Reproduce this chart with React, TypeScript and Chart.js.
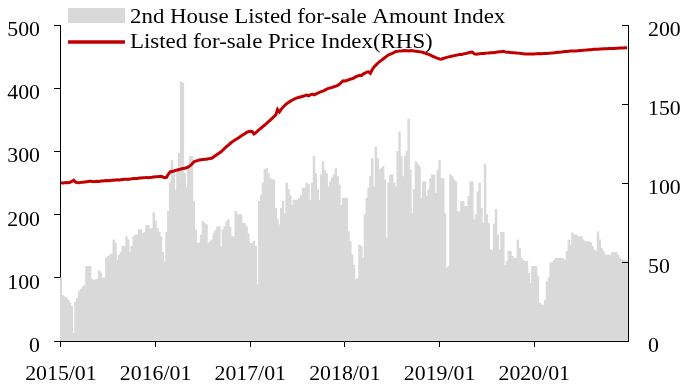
import React, { useEffect, useRef } from "react";
import { Chart, registerables } from "chart.js";

Chart.register(...registerables);

// ---- data ----
const years = [2015, 2016, 2017, 2018, 2019, 2020];
const WEEKS_PER_YEAR = 52;
const tickLabels = ["2015/01", "2016/01", "2017/01", "2018/01", "2019/01", "2020/01"];
const leftTicks = [0, 100, 200, 300, 400, 500];
const rightTicks = [0, 50, 100, 150, 200];

const amountLabel = "2nd House Listed for-sale Amount Index";
const priceLabel = "Listed for-sale Price Index(RHS)";

const amount2015 = [100, 72, 70, 68, 65, 60, 55, 12, 62, 68, 78, 82, 85, 88, 118, 118, 118, 98, 96, 97, 98, 111, 108, 99, 100, 132, 134, 136, 138, 160, 155, 128, 136, 140, 150, 150, 165, 160, 140, 150, 165, 168, 168, 176, 176, 170, 172, 183, 183, 178, 178, 203];
const amount2016 = [190, 178, 172, 165, 140, 125, 172, 205, 250, 286, 270, 239, 273, 297, 410, 408, 265, 244, 276, 292, 292, 221, 176, 155, 155, 168, 189, 186, 184, 155, 157, 160, 171, 175, 181, 181, 149, 176, 181, 189, 192, 180, 165, 165, 205, 200, 200, 200, 186, 186, 181, 170];
const amount2017 = [154, 154, 158, 150, 89, 221, 230, 250, 271, 273, 265, 257, 255, 255, 210, 192, 184, 210, 221, 202, 250, 240, 230, 215, 223, 223, 223, 226, 230, 242, 242, 250, 248, 223, 250, 292, 265, 240, 223, 263, 284, 270, 265, 244, 252, 258, 263, 273, 260, 247, 215, 226];
const amount2018 = [226, 226, 173, 157, 136, 120, 97, 99, 152, 150, 131, 200, 226, 242, 260, 289, 244, 307, 289, 271, 273, 276, 255, 163, 250, 263, 263, 250, 244, 300, 331, 292, 260, 292, 300, 351, 271, 202, 240, 284, 280, 276, 226, 252, 252, 229, 239, 257, 263, 263, 234, 270];
const amount2019 = [286, 257, 257, 202, 115, 118, 263, 260, 255, 252, 205, 205, 221, 221, 213, 213, 229, 252, 252, 192, 200, 236, 250, 210, 186, 280, 200, 186, 144, 144, 185, 208, 168, 144, 172, 172, 120, 126, 142, 142, 134, 131, 131, 160, 147, 131, 128, 126, 126, 107, 91, 118];
const amount2020 = [118, 118, 102, 60, 57, 57, 65, 94, 100, 123, 125, 128, 131, 131, 131, 131, 130, 128, 142, 160, 152, 171, 168, 168, 165, 165, 165, 160, 157, 157, 157, 156, 150, 144, 142, 173, 160, 147, 142, 136, 136, 136, 136, 140, 140, 140, 136, 131, 128, 128, 127, 127];

const price2015 = [100.2, 100.0, 100.1, 100.3, 100.2, 100.5, 101.0, 101.8, 100.6, 100.3, 100.2, 100.4, 100.5, 100.6, 100.8, 100.9, 101.2, 100.9, 100.8, 101.0, 101.1, 101.0, 101.2, 101.3, 101.4, 101.5, 101.4, 101.6, 101.7, 101.8, 101.9, 102.0, 101.9, 102.1, 102.2, 102.3, 102.4, 102.3, 102.6, 102.7, 102.9, 102.8, 102.9, 103.1, 103.2, 103.3, 103.4, 103.5, 103.4, 103.5, 103.6, 103.8];
const price2016 = [104.0, 103.9, 104.1, 104.2, 103.8, 103.4, 103.6, 105.5, 107.0, 107.3, 107.6, 108.0, 108.2, 108.5, 108.9, 109.2, 109.4, 109.6, 110.2, 111.0, 112.0, 113.3, 113.8, 114.2, 114.5, 114.7, 114.8, 115.0, 115.1, 115.3, 115.5, 115.8, 116.6, 117.4, 118.2, 119.0, 119.8, 120.9, 122.0, 123.1, 124.0, 125.0, 126.0, 126.8, 127.5, 128.2, 129.0, 129.8, 130.5, 131.2, 132.0, 132.5];
const price2017 = [132.8, 132.6, 131.0, 131.8, 132.9, 133.9, 134.8, 135.8, 136.7, 137.7, 138.8, 139.8, 140.9, 142.0, 143.0, 146.5, 145.0, 146.6, 148.0, 149.2, 150.2, 151.0, 151.8, 152.4, 153.0, 153.6, 154.0, 154.3, 154.6, 154.9, 155.3, 155.6, 155.2, 155.8, 156.2, 155.8, 156.3, 156.9, 157.3, 157.8, 158.2, 158.8, 159.4, 159.9, 160.2, 160.5, 160.9, 161.3, 161.8, 162.4, 163.6, 164.7];
const price2018 = [164.6, 164.9, 165.3, 165.8, 166.0, 166.5, 167.3, 167.6, 168.2, 168.0, 168.9, 169.5, 170.2, 170.4, 169.4, 171.8, 173.5, 174.6, 175.8, 176.8, 177.6, 178.5, 179.4, 180.3, 181.1, 181.6, 182.0, 182.6, 183.2, 183.3, 183.5, 183.6, 183.7, 183.8, 183.7, 183.6, 183.8, 183.7, 183.5, 183.4, 183.3, 183.1, 183.0, 182.6, 182.2, 181.8, 181.4, 180.9, 180.3, 179.8, 179.3, 178.9];
const price2019 = [178.5, 178.4, 178.8, 179.2, 179.5, 179.8, 180.1, 180.4, 180.6, 180.9, 181.1, 181.3, 181.4, 181.6, 181.9, 182.1, 182.4, 182.7, 182.9, 181.8, 181.5, 181.7, 181.8, 181.9, 182.0, 182.1, 182.2, 182.3, 182.4, 182.5, 182.6, 182.7, 182.9, 183.0, 183.1, 183.4, 183.0, 182.8, 182.7, 182.6, 182.5, 182.4, 182.3, 182.2, 182.1, 181.9, 181.8, 181.7, 181.6, 181.6, 181.6, 181.7];
const price2020 = [181.7, 181.8, 181.8, 181.9, 181.8, 181.9, 181.9, 182.0, 182.1, 182.2, 182.3, 182.4, 182.6, 182.7, 182.8, 182.9, 183.1, 183.2, 183.3, 183.4, 183.5, 183.5, 183.6, 183.6, 183.7, 183.8, 183.9, 184.0, 184.1, 184.2, 184.3, 184.4, 184.5, 184.6, 184.6, 184.7, 184.8, 184.8, 184.9, 185.0, 185.0, 185.1, 185.1, 185.2, 185.2, 185.3, 185.3, 185.4, 185.4, 185.5, 185.6, 185.6];

const categories = years.flatMap((y) =>
  Array.from({ length: WEEKS_PER_YEAR }, (_, w) => `${y}-W${String(w + 1).padStart(2, "0")}`)
);
const amountIndex = [...amount2015, ...amount2016, ...amount2017, ...amount2018, ...amount2019, ...amount2020];
const priceIndex = [...price2015, ...price2016, ...price2017, ...price2018, ...price2019, ...price2020];

const FONT = "'Liberation Serif', 'Times New Roman', serif";
const BAR_COLOR = "#d9d9d9";
const LINE_COLOR = "#c00000";
const STRETCH = 1.09;

function stretchedText(ctx: any, text: string, x: number, y: number, align: string) {
  ctx.save();
  ctx.translate(x, y);
  ctx.scale(STRETCH, 1);
  ctx.textAlign = align;
  ctx.fillText(text, 0, 0);
  ctx.restore();
}

const overlayPlugin = {
  id: "overlay",
  afterDraw(chart: any) {
    const ctx = chart.ctx;
    const area = chart.chartArea;
    const sy = chart.scales.y;
    const sy1 = chart.scales.y1;
    const sx = chart.scales.x;
    ctx.save();
    // inward ticks on right axis
    ctx.strokeStyle = "#000";
    ctx.lineWidth = 1;
    ctx.beginPath();
    rightTicks.forEach((v) => {
      const y = Math.round(sy1.getPixelForValue(v)) + 0.5;
      ctx.moveTo(area.right, y);
      ctx.lineTo(area.right - 6, y);
    });
    ctx.stroke();

    // axis tick labels
    ctx.fillStyle = "#000";
    ctx.font = `20px ${FONT}`;
    ctx.textBaseline = "alphabetic";
    leftTicks.forEach((v) => {
      stretchedText(ctx, String(v), area.left - 20, sy.getPixelForValue(v) + 11, "right");
    });
    rightTicks.forEach((v) => {
      stretchedText(ctx, String(v), area.right + 20, sy1.getPixelForValue(v) + 11, "left");
    });
    tickLabels.forEach((t, i) => {
      stretchedText(ctx, t, sx.getPixelForValue(i * WEEKS_PER_YEAR), area.bottom + 39, "center");
    });

    // legend
    ctx.fillStyle = BAR_COLOR;
    ctx.fillRect(68, 8, 57, 15);
    ctx.strokeStyle = LINE_COLOR;
    ctx.lineWidth = 3.5;
    ctx.beginPath();
    ctx.moveTo(68, 42);
    ctx.lineTo(125, 42);
    ctx.stroke();
    ctx.fillStyle = "#000";
    ctx.font = `21px ${FONT}`;
    stretchedText(ctx, amountLabel, 130, 23, "left");
    stretchedText(ctx, priceLabel, 130, 48, "left");
    ctx.restore();
  },
};

export default function App() {
  const ref = useRef<HTMLCanvasElement | null>(null);
  useEffect(() => {
    if (!ref.current) return;
    const chart = new Chart(ref.current, {
      data: {
        labels: categories,
        datasets: [
          {
            type: "line",
            label: priceLabel,
            data: priceIndex,
            yAxisID: "y1",
            borderColor: LINE_COLOR,
            borderWidth: 3,
            pointRadius: 0,
            tension: 0,
            order: 0,
          },
          {
            type: "bar",
            label: amountLabel,
            data: amountIndex,
            yAxisID: "y",
            backgroundColor: BAR_COLOR,
            borderWidth: 0,
            barPercentage: 1,
            categoryPercentage: 1,
            order: 1,
          },
        ],
      } as any,
      options: {
        responsive: false,
        animation: false,
        devicePixelRatio: 1,
        layout: { padding: { top: 25, left: 0, right: 0, bottom: 0 } },
        plugins: { legend: { display: false }, tooltip: { enabled: false } },
        scales: {
          x: {
            type: "category",
            offset: true,
            grid: { display: true, drawOnChartArea: false, drawTicks: true, tickLength: 6, color: "#000", offset: false },
            border: { display: true, color: "#000", width: 1 },
            ticks: { display: false, autoSkip: false, maxRotation: 0, minRotation: 0 },
            afterBuildTicks: (scale: any) => {
              scale.ticks = scale.ticks.filter((t: any) => t.value % WEEKS_PER_YEAR === 0);
            },
            afterFit: (scale: any) => {
              scale.height = 51;
            },
          },
          y: {
            position: "left",
            min: 0,
            max: 500,
            afterBuildTicks: (scale: any) => {
              scale.ticks = leftTicks.map((v) => ({ value: v }));
            },
            grid: { display: true, drawOnChartArea: false, drawTicks: true, tickLength: 6, color: "#000" },
            border: { display: true, color: "#000", width: 1 },
            ticks: { display: false, padding: 0 },
            afterFit: (scale: any) => {
              scale.width = 60;
            },
          },
          y1: {
            position: "right",
            min: 0,
            max: 200,
            afterBuildTicks: (scale: any) => {
              scale.ticks = rightTicks.map((v) => ({ value: v }));
            },
            grid: { display: false, drawOnChartArea: false, drawTicks: false },
            border: { display: true, color: "#000", width: 1 },
            ticks: { display: false, padding: 0 },
            afterFit: (scale: any) => {
              scale.width = 68;
            },
          },
        },
      } as any,
      plugins: [overlayPlugin],
    });
    return () => chart.destroy();
  }, []);
  return (
    <div style={{ position: "absolute", left: 0, top: 0, width: 696, height: 392, background: "#fff" }}>
      <canvas ref={ref} width={696} height={392} style={{ display: "block" }} />
    </div>
  );
}
